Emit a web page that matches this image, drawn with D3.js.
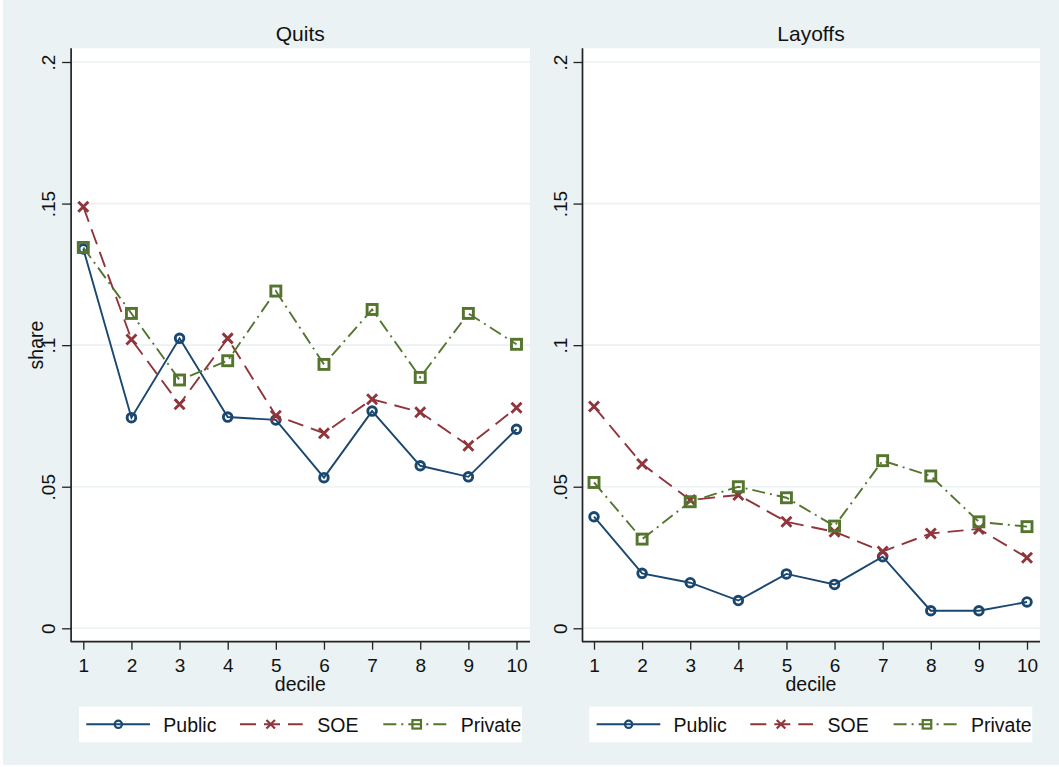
<!DOCTYPE html>
<html>
<head>
<meta charset="utf-8">
<script src="https://cdn.jsdelivr.net/npm/d3@7"></script>
<style>
  html, body { margin: 0; padding: 0; background: #ffffff; }
  svg { display: block; }
  text { font-family: "Liberation Sans", Arial, sans-serif; fill: #111; }
</style>
</head>
<body>
<svg id="chart" width="1059" height="767"></svg>
<script>
// ---------------- DATA ----------------
const deciles = [1, 2, 3, 4, 5, 6, 7, 8, 9, 10];
const seriesNames = ["Public", "SOE", "Private"];
const panelTitles = ["Quits", "Layoffs"];

const quitsPublic  = [0.134, 0.0744, 0.1024, 0.0746, 0.0736, 0.0532, 0.0767, 0.0574, 0.0535, 0.0703];
const quitsSOE     = [0.1489, 0.1020, 0.0791, 0.1024, 0.0751, 0.0689, 0.0809, 0.0763, 0.0645, 0.0779];
const quitsPrivate = [0.1345, 0.1112, 0.0877, 0.0945, 0.1191, 0.0932, 0.1126, 0.0886, 0.1112, 0.1003];

const layoffsPublic  = [0.0394, 0.0194, 0.0161, 0.0098, 0.0192, 0.0155, 0.0253, 0.0062, 0.0062, 0.0093];
const layoffsSOE     = [0.0783, 0.0580, 0.0453, 0.0471, 0.0376, 0.0341, 0.0271, 0.0335, 0.0351, 0.0249];
const layoffsPrivate = [0.0515, 0.0315, 0.0447, 0.0500, 0.0461, 0.0361, 0.0592, 0.0538, 0.0376, 0.0359];

const yTicks = [0, 0.05, 0.1, 0.15, 0.2];
const yTickLabels = ["0", ".05", ".1", ".15", ".2"];
const xTickLabels = ["1", "2", "3", "4", "5", "6", "7", "8", "9", "10"];
const xAxisTitle = "decile";
const yAxisTitle = "share";

// ---------------- STYLE ----------------
const BG = "#eaf2f3";
const colors = { Public: "#1a476f", SOE: "#90353b", Private: "#55752f" };
const dashes = { Public: null, SOE: "16,8", Private: "13,5,2,5" };
const markers = { Public: "circle", SOE: "x", Private: "square" };

const svg = d3.select("#chart");
svg.append("rect").attr("x", 3).attr("y", 0).attr("width", 1056).attr("height", 765).attr("fill", BG);

const panels = [
  { title: panelTitles[0], data: [quitsPublic, quitsSOE, quitsPrivate],
    px0: 70.6, px1: 530, xr: [83.3, 516.5], legendX: 79, showYTitle: true },
  { title: panelTitles[1], data: [layoffsPublic, layoffsSOE, layoffsPrivate],
    px0: 582, px1: 1040, xr: [594, 1027], legendX: 589.3, showYTitle: false }
];

const plotTop = 48.3, plotBottom = 641.7;
const y = d3.scaleLinear().domain([0, 0.2]).range([628.3, 62]);

function drawMarker(g, type, cx, cy, color, s, sw) {
  s = s || 1;
  sw = sw || 2.9;
  if (type === "circle") {
    g.append("circle").attr("cx", cx).attr("cy", cy).attr("r", 4.3 * s)
      .attr("fill", "none").attr("stroke", color).attr("stroke-width", sw);
  } else if (type === "square") {
    const h = 5.0 * s;
    g.append("rect").attr("x", cx - h).attr("y", cy - h).attr("width", 2 * h).attr("height", 2 * h)
      .attr("fill", "none").attr("stroke", color).attr("stroke-width", sw);
  } else {
    const h = 5 * s;
    g.append("path").attr("d", `M${cx - h},${cy - h}L${cx + h},${cy + h}M${cx - h},${cy + h}L${cx + h},${cy - h}`)
      .attr("stroke", color).attr("stroke-width", sw).attr("fill", "none");
  }
}

panels.forEach(p => {
  const g = svg.append("g");
  const x = d3.scaleLinear().domain([1, 10]).range(p.xr);

  // plot region
  g.append("rect").attr("x", p.px0).attr("y", plotTop)
    .attr("width", p.px1 - p.px0).attr("height", plotBottom - plotTop).attr("fill", "#ffffff");

  // gridlines
  g.selectAll(".grid").data(yTicks).enter().append("line")
    .attr("x1", p.px0).attr("x2", p.px1)
    .attr("y1", d => y(d)).attr("y2", d => y(d))
    .attr("stroke", BG).attr("stroke-width", 1.6);

  // title
  g.append("text").attr("x", (p.px0 + p.px1) / 2).attr("y", 40.5)
    .attr("text-anchor", "middle").style("font-size", "21px").text(p.title);

  // Y axis
  const yAxis = d3.axisLeft(y).tickValues(yTicks).tickFormat((d, i) => yTickLabels[i]).tickSize(9).tickPadding(0);
  const ya = g.append("g").attr("transform", `translate(${p.px0 + 0.5},0)`).call(yAxis);
  ya.select(".domain").attr("d", `M0,${plotTop}V${plotBottom}`).attr("stroke", "#222").attr("stroke-width", 1.7);
  ya.selectAll(".tick line").attr("stroke", "#222").attr("stroke-width", 1.3);
  ya.selectAll(".tick text")
    .attr("x", null).attr("dy", null)
    .attr("text-anchor", "middle")
    .attr("transform", "translate(-16,0) rotate(-90)")
    .style("font-size", "19px").style("font-family", '"Liberation Sans", Arial, sans-serif').attr("fill", "#111");

  // X axis
  const xAxis = d3.axisBottom(x).tickValues(deciles).tickFormat((d, i) => xTickLabels[i]).tickSize(8).tickPadding(4);
  const xa = g.append("g").attr("transform", `translate(0,${plotBottom})`).call(xAxis);
  xa.select(".domain").attr("d", `M${p.px0},0H${p.px1}`).attr("stroke", "#222").attr("stroke-width", 1.7);
  xa.selectAll(".tick line").attr("stroke", "#222").attr("stroke-width", 1.3);
  xa.selectAll(".tick text").attr("dy", null).attr("y", 30)
    .style("font-size", "19px").style("font-family", '"Liberation Sans", Arial, sans-serif').attr("fill", "#111");

  g.append("text").attr("x", (p.px0 + p.px1) / 2).attr("y", 691)
    .attr("text-anchor", "middle").style("font-size", "19.5px").text(xAxisTitle);

  if (p.showYTitle) {
    g.append("text").attr("transform", `translate(43,${(plotTop + plotBottom) / 2}) rotate(-90)`)
      .attr("text-anchor", "middle").style("font-size", "19.5px").text(yAxisTitle);
  }

  // series
  const line = d3.line().x((d, i) => x(deciles[i])).y(d => y(d));
  seriesNames.forEach((name, si) => {
    const vals = p.data[si];
    const sg = g.append("g");
    sg.append("path").datum(vals).attr("d", line)
      .attr("fill", "none").attr("stroke", colors[name]).attr("stroke-width", 1.9)
      .attr("stroke-dasharray", dashes[name]);
    vals.forEach((v, i) => drawMarker(sg, markers[name], x(deciles[i]), y(v), colors[name]));
  });

  // legend
  const lg = svg.append("g").attr("transform", `translate(${p.legendX},0)`);
  lg.append("rect").attr("x", 0).attr("y", 706.7).attr("width", 443).attr("height", 35.6).attr("fill", "#ffffff");
  const items = [
    { name: "Public", l0: 7.3, l1: 71, m: 39.3, t: 84.3 },
    { name: "SOE", l0: 161, l1: 223.7, m: 191.7, t: 238.3 },
    { name: "Private", l0: 304.3, l1: 369.3, m: 337.7, t: 381.7 }
  ];
  const ly = 724.3;
  items.forEach(it => {
    lg.append("line").attr("x1", it.l0).attr("x2", it.l1).attr("y1", ly).attr("y2", ly)
      .attr("stroke", colors[it.name]).attr("stroke-width", 1.9)
      .attr("stroke-dasharray", dashes[it.name]);
    drawMarker(lg, markers[it.name], it.m, ly, colors[it.name], 0.85, 2.2);
    lg.append("text").attr("x", it.t).attr("y", 731.5).style("font-size", "19.5px").text(it.name);
  });
});
</script>
</body>
</html>
